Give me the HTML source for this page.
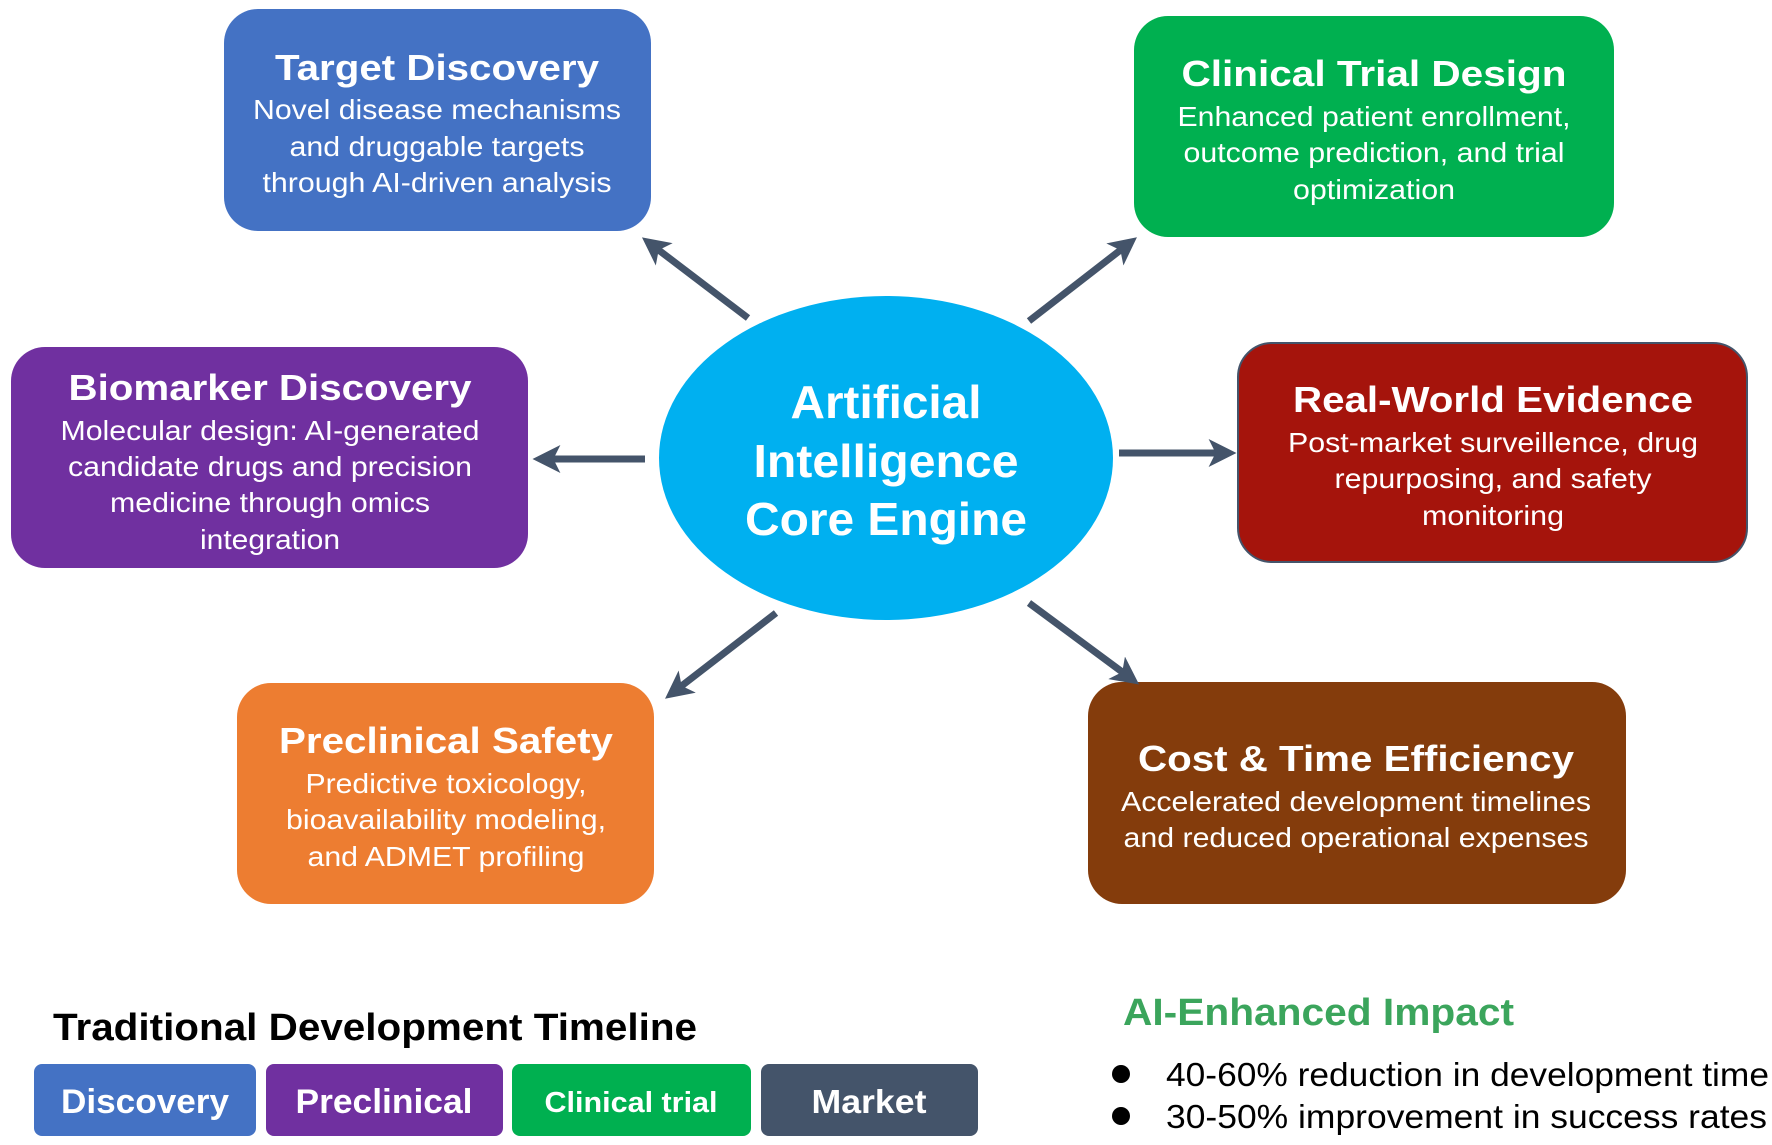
<!DOCTYPE html>
<html><head><meta charset="utf-8"><style>
html,body{margin:0;padding:0;background:#fff;}
svg{display:block;font-family:"Liberation Sans",Arial,sans-serif;}
</style></head><body>
<svg width="1772" height="1145" viewBox="0 0 1772 1145" xmlns="http://www.w3.org/2000/svg">
<defs>
<marker id="ah" markerWidth="4" markerHeight="4" refX="2.2" refY="2" orient="auto" markerUnits="strokeWidth">
<path d="M0,0 L4,2 L0,4 L1,2 z" fill="#44546A"/>
</marker>
</defs>
<rect width="1772" height="1145" fill="#fff"/>
<rect x="224" y="9" width="427" height="222" rx="34" fill="#4472C4"/>
<rect x="1134" y="16" width="480" height="221" rx="34" fill="#00B050"/>
<rect x="11" y="347" width="517" height="221" rx="34" fill="#7030A0"/>
<rect x="1238" y="343" width="509" height="219" rx="34" fill="#A5140C" stroke="#44546A" stroke-width="2"/>
<rect x="237" y="683" width="417" height="221" rx="34" fill="#ED7D31"/>
<rect x="1088" y="682" width="538" height="222" rx="34" fill="#843C0C"/>
<ellipse cx="886" cy="458" rx="227" ry="162" fill="#00B0F0"/>
<g stroke="#44546A" stroke-width="7" fill="none" marker-end="url(#ah)">
<line x1="748" y1="318" x2="652" y2="245"/>
<line x1="1029" y1="321" x2="1127" y2="245"/>
<line x1="645" y1="459" x2="545" y2="459"/>
<line x1="1119" y1="453" x2="1224" y2="453"/>
<line x1="776" y1="613" x2="675" y2="691"/>
<line x1="1029" y1="603" x2="1129" y2="677"/>
</g>
<g fill="#fff" text-anchor="middle">
<g font-size="36" font-weight="bold">
<text x="437" y="80" textLength="324" lengthAdjust="spacingAndGlyphs">Target Discovery</text>
<text x="1374" y="86" textLength="385" lengthAdjust="spacingAndGlyphs">Clinical Trial Design</text>
<text x="270" y="400" textLength="403" lengthAdjust="spacingAndGlyphs">Biomarker Discovery</text>
<text x="1493" y="412" textLength="400" lengthAdjust="spacingAndGlyphs">Real-World Evidence</text>
<text x="446" y="753" textLength="334" lengthAdjust="spacingAndGlyphs">Preclinical Safety</text>
<text x="1356" y="771" textLength="436" lengthAdjust="spacingAndGlyphs">Cost &amp; Time Efficiency</text>
</g>
<g font-size="28">
<text x="437" y="119" textLength="368" lengthAdjust="spacingAndGlyphs">Novel disease mechanisms</text>
<text x="437" y="156" textLength="295" lengthAdjust="spacingAndGlyphs">and druggable targets</text>
<text x="437" y="192" textLength="349" lengthAdjust="spacingAndGlyphs">through AI-driven analysis</text>
<text x="1374" y="126" textLength="393" lengthAdjust="spacingAndGlyphs">Enhanced patient enrollment,</text>
<text x="1374" y="162" textLength="381" lengthAdjust="spacingAndGlyphs">outcome prediction, and trial</text>
<text x="1374" y="199" textLength="162" lengthAdjust="spacingAndGlyphs">optimization</text>
<text x="270" y="440" textLength="419" lengthAdjust="spacingAndGlyphs">Molecular design: AI-generated</text>
<text x="270" y="476" textLength="404" lengthAdjust="spacingAndGlyphs">candidate drugs and precision</text>
<text x="270" y="512" textLength="320" lengthAdjust="spacingAndGlyphs">medicine through omics</text>
<text x="270" y="549" textLength="140" lengthAdjust="spacingAndGlyphs">integration</text>
<text x="1493" y="452" textLength="410" lengthAdjust="spacingAndGlyphs">Post-market surveillence, drug</text>
<text x="1493" y="488" textLength="317" lengthAdjust="spacingAndGlyphs">repurposing, and safety</text>
<text x="1493" y="525" textLength="142" lengthAdjust="spacingAndGlyphs">monitoring</text>
<text x="446" y="793" textLength="281" lengthAdjust="spacingAndGlyphs">Predictive toxicology,</text>
<text x="446" y="829" textLength="320" lengthAdjust="spacingAndGlyphs">bioavailability modeling,</text>
<text x="446" y="866" textLength="277" lengthAdjust="spacingAndGlyphs">and ADMET profiling</text>
<text x="1356" y="811" textLength="470" lengthAdjust="spacingAndGlyphs">Accelerated development timelines</text>
<text x="1356" y="847" textLength="465" lengthAdjust="spacingAndGlyphs">and reduced operational expenses</text>
</g>
<g font-size="46" font-weight="bold">
<text x="886" y="418" textLength="191" lengthAdjust="spacingAndGlyphs">Artificial</text>
<text x="886" y="477" textLength="265" lengthAdjust="spacingAndGlyphs">Intelligence</text>
<text x="886" y="535" textLength="282" lengthAdjust="spacingAndGlyphs">Core Engine</text>
</g>
</g>
<text x="53" y="1040" font-size="38" font-weight="bold" fill="#000" textLength="644" lengthAdjust="spacingAndGlyphs">Traditional Development Timeline</text>
<rect x="34" y="1064" width="222" height="72" rx="8" fill="#4472C4"/>
<rect x="266" y="1064" width="237" height="72" rx="8" fill="#7030A0"/>
<rect x="512" y="1064" width="239" height="72" rx="8" fill="#00B050"/>
<rect x="761" y="1064" width="217" height="72" rx="8" fill="#44546A"/>
<g fill="#fff" font-weight="bold" text-anchor="middle">
<text x="145" y="1113" font-size="34" textLength="168" lengthAdjust="spacingAndGlyphs">Discovery</text>
<text x="384" y="1113" font-size="34" textLength="177" lengthAdjust="spacingAndGlyphs">Preclinical</text>
<text x="631" y="1112" font-size="29" textLength="173" lengthAdjust="spacingAndGlyphs">Clinical trial</text>
<text x="869" y="1113" font-size="33" textLength="115" lengthAdjust="spacingAndGlyphs">Market</text>
</g>
<text x="1123" y="1025" font-size="38" font-weight="bold" fill="#3BA55C" textLength="391" lengthAdjust="spacingAndGlyphs">AI-Enhanced Impact</text>
<circle cx="1121" cy="1074" r="9" fill="#000"/>
<circle cx="1121" cy="1116" r="9" fill="#000"/>
<g font-size="33" fill="#000">
<text x="1166" y="1086" textLength="603" lengthAdjust="spacingAndGlyphs">40-60% reduction in development time</text>
<text x="1166" y="1128" textLength="601" lengthAdjust="spacingAndGlyphs">30-50% improvement in success rates</text>
</g>
</svg>
</body></html>
